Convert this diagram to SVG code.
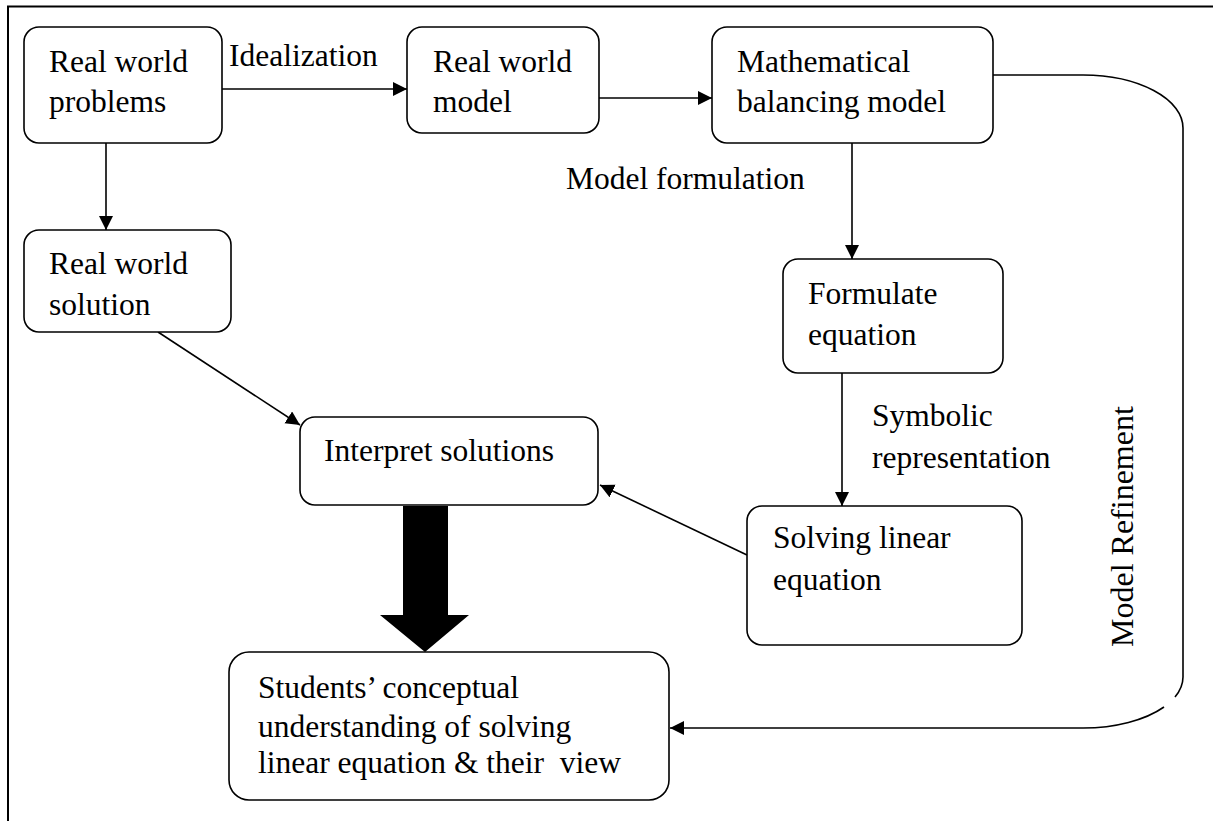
<svg xmlns="http://www.w3.org/2000/svg" width="1213" height="821" viewBox="0 0 1213 821">
<style>
.box{fill:#fff;stroke:#000;stroke-width:1.6}
.t{font-family:"Liberation Serif","Times New Roman",serif;font-size:31.5px;fill:#000}
.c{fill:none;stroke:#000;stroke-width:1.6}
</style>
<defs>
<marker id="ah" markerUnits="userSpaceOnUse" markerWidth="15" markerHeight="15" refX="14" refY="7" orient="auto">
<path d="M0,0 L14,7 L0,14 z" fill="#000"/>
</marker>
<clipPath id="clipS"><rect x="229" y="652" width="440" height="132"/></clipPath>
</defs>
<rect width="1213" height="821" fill="#fff"/>
<path d="M8,821 V6.5 H1213" fill="none" stroke="#000" stroke-width="2"/>

<g id="connectors">
<line class="c" x1="222" y1="89" x2="407" y2="89" marker-end="url(#ah)"/>
<line class="c" x1="106" y1="143" x2="106" y2="230" marker-end="url(#ah)"/>
<line class="c" x1="599" y1="98" x2="712" y2="98" marker-end="url(#ah)"/>
<line class="c" x1="852" y1="143" x2="852" y2="259" marker-end="url(#ah)"/>
<line class="c" x1="842" y1="373" x2="842" y2="506" marker-end="url(#ah)"/>
<line class="c" x1="158" y1="332" x2="300" y2="425" marker-end="url(#ah)"/>
<line class="c" x1="747" y1="555" x2="600" y2="485" marker-end="url(#ah)"/>
<path class="c" d="M993,75 H1083 A100,53 0 0 1 1183,128 V677 A100,51 0 0 1 1175,697"/>
<path class="c" d="M1164,707 A100,51 0 0 1 1083,728 H670" marker-end="url(#ah)"/>
<path d="M403,506 H448 V615 H469 L425,652 L380,615 H403 Z" fill="#000"/>
<text class="t" x="229" y="66">Idealization</text>
<text class="t" x="566" y="189">Model formulation</text>
<text class="t" x="872" y="426">Symbolic</text>
<text class="t" x="872" y="468">representation</text>
<text class="t" style="font-size:32px" transform="translate(1133,647) rotate(-90)">Model Refinement</text>
</g>

<g id="real-world-problems">
<rect class="box" x="24" y="27" width="198" height="116" rx="15"/>
<text class="t" x="49" y="72">Real world</text>
<text class="t" x="49" y="112">problems</text>
</g>
<g id="real-world-model">
<rect class="box" x="407" y="27" width="192" height="106" rx="15"/>
<text class="t" x="433" y="72">Real world</text>
<text class="t" x="433" y="112">model</text>
</g>
<g id="math-model">
<rect class="box" x="712" y="27" width="281" height="116" rx="15"/>
<text class="t" x="737" y="72">Mathematical</text>
<text class="t" x="737" y="112">balancing model</text>
</g>
<g id="real-world-solution">
<rect class="box" x="24" y="230" width="207" height="102" rx="15"/>
<text class="t" x="49" y="274">Real world</text>
<text class="t" x="49" y="315">solution</text>
</g>
<g id="formulate-equation">
<rect class="box" x="783" y="259" width="220" height="114" rx="15"/>
<text class="t" x="808" y="304">Formulate</text>
<text class="t" x="808" y="345">equation</text>
</g>
<g id="interpret-solutions">
<rect class="box" x="300" y="417" width="298" height="88" rx="15"/>
<text class="t" x="324" y="461">Interpret solutions</text>
</g>
<g id="solving-linear-equation">
<rect class="box" x="747" y="506" width="275" height="139" rx="15"/>
<text class="t" x="773" y="548">Solving linear</text>
<text class="t" x="773" y="590">equation</text>
</g>
<g id="students-understanding">
<rect class="box" x="229" y="652" width="440" height="148" rx="20"/>
<g clip-path="url(#clipS)">
<text class="t" x="258" y="698">Students’ conceptual</text>
<text class="t" x="258" y="737">understanding of solving</text>
<text class="t" x="258" y="773" xml:space="preserve">linear equation &amp; their  view</text>
</g>
</g>
</svg>
